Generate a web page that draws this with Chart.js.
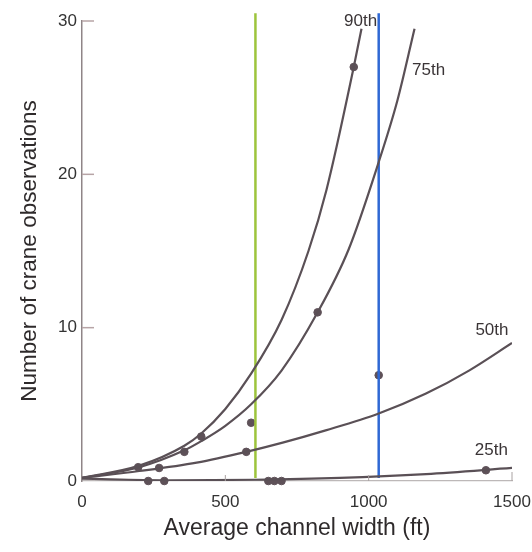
<!DOCTYPE html>
<html>
<head>
<meta charset="utf-8">
<script src="https://cdn.jsdelivr.net/npm/chart.js@4.4.1/dist/chart.umd.min.js"></script>
<style>
  html, body { margin: 0; padding: 0; background: #fff; }
  #wrap { width: 532px; height: 552px; }
</style>
</head>
<body>
<div id="wrap"><canvas id="craneChart" width="532" height="552"></canvas></div>
<script>
// observed sites
const obsWidth = [196, 269, 231, 287, 357, 416, 573, 590, 650, 671, 696, 822, 948, 1035, 1409];
const obsCount = [0.9, 0.85, 0, 0, 1.9, 2.9, 1.9, 3.8, 0, 0, 0, 11, 27, 6.9, 0.7];

// quantile regression curves
const q90Width = [0, 200, 357, 416, 500, 590, 696, 790, 853, 948, 975];
const q90Count = [0.2, 1.0, 2.3, 3.1, 4.7, 7.0, 10.5, 15.0, 19.0, 27, 29.5];
const q75Width = [0, 200, 357, 416, 500, 590, 696, 822, 930, 1035, 1100, 1160];
const q75Count = [0.2, 0.9, 2.0, 2.6, 3.6, 5.0, 7.2, 11, 15.1, 20.8, 24.8, 29.5];
const q50Width = [0, 200, 400, 573, 700, 850, 1035, 1200, 1350, 1500];
const q50Count = [0.2, 0.65, 1.2, 1.9, 2.5, 3.3, 4.4, 5.7, 7.2, 9.0];
const q25Width = [0, 300, 600, 900, 1200, 1500];
const q25Count = [0.15, 0.05, 0.08, 0.2, 0.45, 0.85];
const quantileNames = ["90th", "75th", "50th", "25th"];

// vertical reference widths
const greenWidth = 605;
const blueWidth = 1035;
const refLineSpan = [0.2, 30.5];

const xTicks = [0, 500, 1000, 1500];
const yTicks = [0, 10, 20, 30];

const toPoints = (xs, ys) => xs.map((x, i) => ({ x: x, y: ys[i] }));

const curveStyle = {
  showLine: true,
  borderColor: "#5a5056",
  borderWidth: 2.2,
  pointRadius: 0,
  cubicInterpolationMode: "monotone",
  fill: false,
};

const inwardTicks = {
  id: "inwardTicks",
  afterDatasetsDraw(chart) {
    const ctx = chart.ctx;
    const xs = chart.scales.x;
    const ys = chart.scales.y;
    const area = chart.chartArea;
    ctx.save();
    ctx.lineWidth = 1.5;
    ctx.strokeStyle = "#b7a4a6";
    yTicks.slice(1).forEach((v) => {
      const py = ys.getPixelForValue(v);
      ctx.beginPath();
      ctx.moveTo(area.left, py);
      ctx.lineTo(area.left + 12, py);
      ctx.stroke();
    });
    ctx.strokeStyle = "#a9a2a2";
    ctx.lineWidth = 1;
    xTicks.slice(1).forEach((v, i) => {
      const px = xs.getPixelForValue(v);
      ctx.beginPath();
      ctx.moveTo(px, area.bottom);
      ctx.lineTo(px, area.bottom - (i === 2 ? 9 : 6));
      ctx.stroke();
    });

    // curve labels
    const anchors = [[972, 30.0], [1209, 26.8], [1430, 9.8], [1428, 2.0]];
    ctx.fillStyle = "#3a3436";
    ctx.font = "17px 'Liberation Sans', sans-serif";
    ctx.textAlign = "center";
    ctx.textBaseline = "middle";
    quantileNames.forEach((name, i) => {
      ctx.fillText(name, xs.getPixelForValue(anchors[i][0]), ys.getPixelForValue(anchors[i][1]));
    });
    ctx.restore();
  },
};

new Chart(document.getElementById("craneChart"), {
  type: "scatter",
  data: {
    datasets: [
      { ...curveStyle, label: "90th", data: toPoints(q90Width, q90Count) },
      { ...curveStyle, label: "75th", data: toPoints(q75Width, q75Count) },
      { ...curveStyle, label: "50th", data: toPoints(q50Width, q50Count) },
      { ...curveStyle, label: "25th", data: toPoints(q25Width, q25Count) },
      {
        label: "green",
        data: refLineSpan.map((y) => ({ x: greenWidth, y: y })),
        showLine: true,
        borderColor: "#9dc43c",
        borderWidth: 2.5,
        pointRadius: 0,
        clip: false,
      },
      {
        label: "blue",
        data: refLineSpan.map((y) => ({ x: blueWidth, y: y })),
        showLine: true,
        borderColor: "#2f68d4",
        borderWidth: 2.5,
        pointRadius: 0,
        clip: false,
      },
      {
        label: "sites",
        data: toPoints(obsWidth, obsCount),
        showLine: false,
        pointRadius: 3.8,
        pointBackgroundColor: "#5e5158",
        pointBorderColor: "#5e5158",
        clip: false,
      },
    ],
  },
  options: {
    responsive: false,
    animation: false,
    layout: { padding: { top: 21, right: 20, bottom: 0, left: 0 } },
    plugins: {
      legend: { display: false },
      tooltip: { enabled: false },
    },
    scales: {
      x: {
        type: "linear",
        min: 0,
        max: 1500,
        afterFit: (s) => {
          s.height = 71;
          s.paddingLeft = 0;
          s.paddingRight = 0;
        },
        afterBuildTicks: (s) => { s.ticks = xTicks.map((v) => ({ value: v })); },
        grid: { drawOnChartArea: false, drawTicks: false },
        border: { color: "#bdb8b8", width: 1.2 },
        ticks: {
          padding: 11,
          color: "#333",
          callback: (v) => String(v),
          font: { family: "'Liberation Sans', Arial, sans-serif", size: 17 },
        },
        title: {
          display: true,
          text: "Average channel width (ft)",
          color: "#2e2a2b",
          font: { family: "'Liberation Sans', Arial, sans-serif", size: 23 },
          padding: { top: 0, bottom: 10 },
        },
      },
      y: {
        type: "linear",
        min: 0,
        max: 30,
        afterFit: (s) => { s.width = 82; },
        afterBuildTicks: (s) => { s.ticks = yTicks.map((v) => ({ value: v })); },
        grid: { drawOnChartArea: false, drawTicks: false },
        border: { color: "#8f8587", width: 1.5 },
        ticks: {
          padding: 5,
          color: "#333",
          callback: (v) => String(v),
          font: { family: "'Liberation Sans', Arial, sans-serif", size: 17 },
        },
        title: {
          display: true,
          text: "Number of crane observations",
          color: "#2e2a2b",
          font: { family: "'Liberation Sans', Arial, sans-serif", size: 22.5 },
          padding: { top: 16, bottom: 0 },
        },
      },
    },
  },
  plugins: [inwardTicks],
});
</script>
</body>
</html>
